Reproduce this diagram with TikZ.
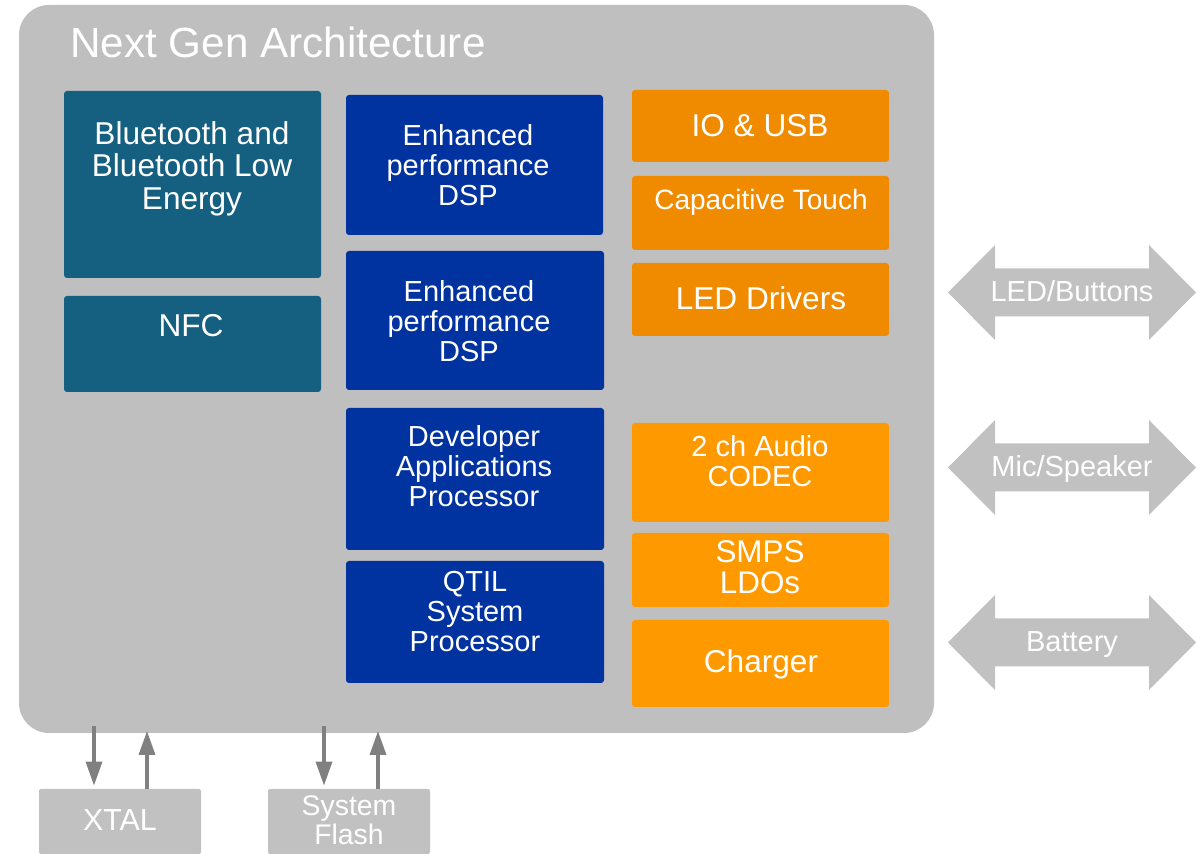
\documentclass[tikz,border=0pt]{standalone}
\usepackage{fontspec}
\setmainfont{Liberation Sans}
\usetikzlibrary{arrows.meta}
\definecolor{chipgray}{RGB}{191,191,191}
\definecolor{iogray}{RGB}{192,193,192}
\definecolor{linkgray}{RGB}{128,128,128}
\definecolor{radioteal}{RGB}{21,96,128}
\definecolor{coreblue}{RGB}{0,51,160}
\definecolor{periorange}{RGB}{240,139,0}
\definecolor{pwrorange}{RGB}{255,153,0}
\tikzset{
 chipbox/.style={fill=chipgray,rounded corners=15pt,inner sep=0pt,minimum width=457.5pt,minimum height=364pt},
 blk/.style={rounded corners=1.5pt,inner sep=0pt,minimum width=128.5pt},
 extbox/.style={fill=iogray,rounded corners=1pt,inner sep=0pt,minimum width=81pt,minimum height=32.5pt},
 lbl/.style={text=white,align=center,inner sep=0pt,font=\fontsize{14.5}{15}\selectfont},
 biglbl/.style={lbl,font=\fontsize{15.8}{16.25}\selectfont},
 link/.style={draw=linkgray,line width=1.7pt,-{Triangle[width=8pt,length=12pt]}}
}
\begin{document}
\begin{tikzpicture}[x=0.5pt,y=-0.5pt]
 \useasboundingbox (0,0) rectangle (1196,854);
 % chip outline
 \node[chipbox] (chip) at (476.5,369) {};
 \node[text=white,inner sep=0pt,anchor=base west,font=\fontsize{21.1}{24}\selectfont] (title) at (70,58) {Next Gen Architecture};
 % radio
 \node[blk,fill=radioteal,minimum height=93.5pt] (bt) at (192.5,184.5) {};
 \node[blk,fill=radioteal,minimum height=48pt] (nfc) at (192.5,344) {};
 \node[biglbl] (bt-t) at (192,168.5) {Bluetooth and\\Bluetooth Low\\Energy};
 \node[biglbl] (nfc-t) at (191,325.5) {NFC};
 % processors
 \node[blk,fill=coreblue,minimum height=70pt] (dsp1) at (474.5,165) {};
 \node[blk,fill=coreblue,minimum width=129pt,minimum height=69.5pt] (dsp2) at (475,320.5) {};
 \node[blk,fill=coreblue,minimum width=129pt,minimum height=71pt] (dev) at (475,479) {};
 \node[blk,fill=coreblue,minimum width=129pt,minimum height=61pt] (qtil) at (475,622) {};
 \node[lbl] (dsp1-t) at (468,165) {Enhanced\\performance\\DSP};
 \node[lbl] (dsp2-t) at (469,321) {Enhanced\\performance\\DSP};
 \node[lbl] (dev-t) at (474,466) {Developer\\Applications\\Processor};
 \node[lbl] (qtil-t) at (475,611.5) {QTIL\\System\\Processor};
 % peripherals
 \node[blk,fill=periorange,minimum height=36pt] (io) at (760.5,126) {};
 \node[blk,fill=periorange,minimum height=37pt] (cap) at (760.5,213) {};
 \node[blk,fill=periorange,minimum height=36.5pt] (led) at (760.5,299.5) {};
 \node[biglbl] (io-t) at (760,126) {IO \& USB};
 \node[lbl,font=\fontsize{14}{15}\selectfont] (cap-t) at (761,202) {Capacitive Touch};
 \node[biglbl] (led-t) at (761,298.5) {LED Drivers};
 % audio and power
 \node[blk,fill=pwrorange,minimum height=49.5pt] (aud) at (760.5,472.5) {};
 \node[blk,fill=pwrorange,minimum height=37pt] (smps) at (760.5,570) {};
 \node[blk,fill=pwrorange,minimum height=43.5pt] (chg) at (760.5,663.5) {};
 \node[lbl] (aud-t) at (760,461) {2 ch Audio\\CODEC};
 \node[biglbl,font=\fontsize{15.7}{15.5}\selectfont] (smps-t) at (760,567.5) {SMPS\\LDOs};
 \node[biglbl] (chg-t) at (761,664) {Charger};
 % external interfaces
 \fill[iogray] (948,292.5) -- ++(47,-47.5) -- ++(0,23.5) -- ++(154,0) -- ++(0,-23.5) -- ++(47,47.5) -- ++(-47,47.5) -- ++(0,-23.5) -- ++(-154,0) -- ++(0,23.5) -- cycle;
 \fill[iogray] (948,467.5) -- ++(47,-47.5) -- ++(0,23.5) -- ++(154,0) -- ++(0,-23.5) -- ++(47,47.5) -- ++(-47,47.5) -- ++(0,-23.5) -- ++(-154,0) -- ++(0,23.5) -- cycle;
 \fill[iogray] (948,642.5) -- ++(47,-47.5) -- ++(0,23.5) -- ++(154,0) -- ++(0,-23.5) -- ++(47,47.5) -- ++(-47,47.5) -- ++(0,-23.5) -- ++(-154,0) -- ++(0,23.5) -- cycle;
 \node[lbl] (ledio) at (1072,291.5) {LED/Buttons};
 \node[lbl] (micio) at (1072,469.5) {Mic/Speaker};
 \node[lbl] (batio) at (1072,644.5) {Battery};
 % xtal and flash
 \node[extbox] (xtal) at (120,821.5) {};
 \node[extbox] (flash) at (349,821.5) {};
 \node[biglbl,font=\fontsize{15.2}{16}\selectfont] (xtal-t) at (120,820.5) {XTAL};
 \node[lbl,font=\fontsize{14.2}{14.5}\selectfont] (flash-t) at (349,820) {System\\Flash};
 \coordinate (xd) at (94,726);
 \coordinate (xu) at (147,731);
 \coordinate (fd) at (324,726);
 \coordinate (fu) at (378,731);
 \draw[link,shorten >=1.5pt] (xd) -- (xd |- xtal.north);
 \draw[link] (xu |- xtal.north) -- (xu);
 \draw[link,shorten >=1.5pt] (fd) -- (fd |- flash.north);
 \draw[link] (fu |- flash.north) -- (fu);
\end{tikzpicture}
\end{document}
